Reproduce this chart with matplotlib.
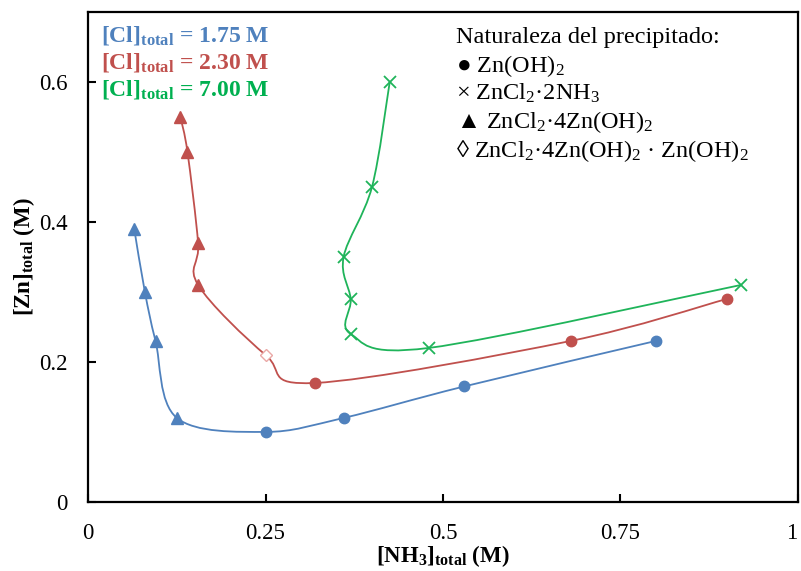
import matplotlib
matplotlib.use("Agg")
import matplotlib.pyplot as plt
from matplotlib.path import Path
from matplotlib.patches import PathPatch

# Datos
# 1.75 M de Cl
azul_x = [0.065, 0.08, 0.095, 0.125, 0.25, 0.36, 0.53, 0.80]
azul_y = [0.39, 0.30, 0.23, 0.12, 0.10, 0.12, 0.165, 0.23]
azul_tipo = ["tri", "tri", "tri", "tri", "circ", "circ", "circ", "circ"]

# 2.30 M de Cl
rojo_x = [0.13, 0.14, 0.155, 0.155, 0.25, 0.32, 0.68, 0.90]
rojo_y = [0.55, 0.50, 0.37, 0.31, 0.21, 0.17, 0.23, 0.29]
rojo_tipo = ["tri", "tri", "tri", "tri", "diam", "circ", "circ", "circ"]

# 7.00 M de Cl
verde_x = [0.425, 0.40, 0.36, 0.37, 0.37, 0.48, 0.92]
verde_y = [0.60, 0.45, 0.35, 0.29, 0.24, 0.22, 0.31]
verde_tipo = ["cruz"] * 7

x_ticks = [0, 0.25, 0.5, 0.75, 1]
x_ticklabels = ["0", "0.25", "0.5", "0.75", "1"]
y_ticks = [0, 0.2, 0.4, 0.6]
y_ticklabels = ["0", "0.2", "0.4", "0.6"]

AZUL = "#4f81bd"
ROJO = "#c0504d"
VERDE = "#1fb45a"
VERDE_TXT = "#00b050"

plt.rcParams["font.family"] = ["Liberation Serif", "DejaVu Sans"]
plt.rcParams["mathtext.fontset"] = "custom"
plt.rcParams["mathtext.rm"] = "Liberation Serif"
plt.rcParams["mathtext.it"] = "Liberation Serif:italic"
plt.rcParams["mathtext.bf"] = "Liberation Serif:bold"


def curva_suave(ax, xs, ys, color):
    # Bezier tipo Catmull-Rom (como la línea suavizada de Excel)
    pts = list(zip(xs, ys))
    n = len(pts)
    verts = [pts[0]]
    codes = [Path.MOVETO]
    for i in range(n - 1):
        p0 = pts[i - 1] if i > 0 else pts[i]
        p1 = pts[i]
        p2 = pts[i + 1]
        p3 = pts[i + 2] if i + 2 < n else pts[i + 1]
        c1 = (p1[0] + (p2[0] - p0[0]) / 6, p1[1] + (p2[1] - p0[1]) / 6)
        c2 = (p2[0] - (p3[0] - p1[0]) / 6, p2[1] - (p3[1] - p1[1]) / 6)
        verts += [c1, c2, p2]
        codes += [Path.CURVE4] * 3
    patch = PathPatch(Path(verts, codes), fill=False, edgecolor=color, lw=1.3, zorder=2)
    ax.add_patch(patch)


def marcadores(ax, xs, ys, tipos, color):
    for x, y, t in zip(xs, ys, tipos):
        if t == "tri":
            ax.plot(x, y, marker="^", ms=8, color=color, mec=color, zorder=3)
        elif t == "circ":
            ax.plot(x, y, marker="o", ms=7.5, color=color, mec=color, zorder=3)
        elif t == "cruz":
            ax.plot(x, y, marker="x", ms=8, mew=1.3, color=color, zorder=3)
        elif t == "diam":
            ax.plot(x, y, marker="D", ms=6.5, mfc="white", mec="#eaa8a6", mew=1.0, zorder=3)


fig = plt.figure(figsize=(8.01, 5.71), dpi=100)
ax = fig.add_axes([0.110, 0.121, 0.886, 0.858])

for xs, ys, tipos, c in [(azul_x, azul_y, azul_tipo, AZUL),
                         (rojo_x, rojo_y, rojo_tipo, ROJO),
                         (verde_x, verde_y, verde_tipo, VERDE)]:
    curva_suave(ax, xs, ys, c)
    marcadores(ax, xs, ys, tipos, c)

ax.set_xlim(0, 1)
ax.set_ylim(0, 0.7)
ax.set_xticks(x_ticks)
ax.set_xticklabels(x_ticklabels)
ax.set_yticks(y_ticks)
ax.set_yticklabels(y_ticklabels)
ax.tick_params(direction="in", length=6, width=1.5, labelsize=16.5,
               top=False, right=False)
ax.tick_params(axis="x", pad=15.5)
ax.tick_params(axis="y", pad=14.5)
# el "1" queda pegado al borde derecho
ax.get_xticklabels()[-1].set_horizontalalignment("right")
for sp in ax.spines.values():
    sp.set_linewidth(1.6)

ax.set_xlabel(r"$\mathbf{[NH_3]_{total}}$ (M)", fontsize=16.5, fontweight="bold", labelpad=-1)
ax.set_ylabel(r"$\mathbf{[Zn]_{total}}$ (M)", fontsize=16.5, fontweight="bold", labelpad=1.5)

# leyenda de concentraciones
conc = [("1.75", AZUL), ("2.30", ROJO), ("7.00", VERDE_TXT)]
ys_conc = [0.939, 0.884, 0.829]
for (v, c), yy in zip(conc, ys_conc):
    ax.text(0.018, yy, r"$\mathbf{[Cl]_{total}}$" + f" = {v} M",
            transform=ax.transAxes, fontsize=17, fontweight="bold", color=c,
            ha="left", va="baseline")

# naturaleza del precipitado
lineas = [
    "Naturaleza del precipitado:",
    "\u25cf Zn(OH)$_2$",
    "\u00d7 ZnCl$_2$\u00b72NH$_3$",
    "\u25b2 ZnCl$_2$\u00b74Zn(OH)$_2$",
    "\u25ca ZnCl$_2$\u00b74Zn(OH)$_2$ \u00b7 Zn(OH)$_2$",
]
ys_txt = [0.937, 0.878, 0.820, 0.763, 0.704]
for t, yy in zip(lineas, ys_txt):
    ax.text(0.519, yy, t, transform=ax.transAxes, fontsize=17.5, color="black",
            ha="left", va="baseline")

fig.savefig("out.png", dpi=100)
